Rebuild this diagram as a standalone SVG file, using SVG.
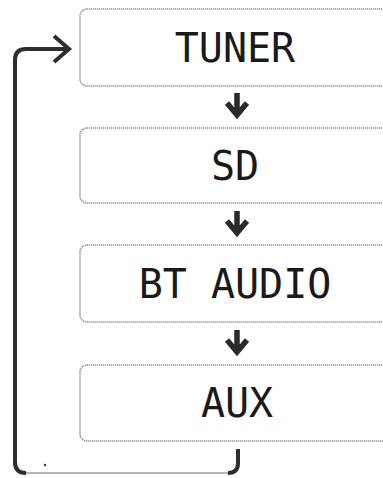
<svg xmlns="http://www.w3.org/2000/svg" width="383" height="478" viewBox="0 0 383 478">
<style>
.box{fill:#fff;stroke:#8a8a8a;stroke-width:1.6;stroke-dasharray:1.2 0.8}
.lbl{font-family:"DejaVu Sans Mono","Liberation Mono",monospace;font-size:40px;fill:#1a1a1a;text-anchor:middle;dominant-baseline:central}
.dn{fill:none;stroke:#2a2a2a;stroke-width:5.5}
.loop{fill:none;stroke:#2e2e2e;stroke-width:4}
</style>
<rect width="383" height="478" fill="#fff"/>
<g id="tuner"><rect class="box" x="80" y="9" width="330" height="77" rx="7"/><text class="lbl" x="235" y="48">TUNER</text></g>
<g id="sd"><rect class="box" x="80" y="128" width="330" height="75" rx="7"/><text class="lbl" x="235" y="166">SD</text></g>
<g id="bt-audio"><rect class="box" x="80" y="245" width="330" height="77" rx="7"/><text class="lbl" x="235" y="284">BT AUDIO</text></g>
<g id="aux"><rect class="box" x="80" y="365" width="330" height="76" rx="7"/><text class="lbl" x="237" y="403">AUX</text></g>
<g id="connectors">
<g class="dn">
<path d="M237 93V114M227 103L237 115L247 103"/>
<path d="M237 211V232M227 221L237 233L247 221"/>
<path d="M237 330V351M227 340L237 352L247 340"/>
</g>
<path class="loop" d="M238 449V463Q238 473 228 473"/>
<path d="M228 473H26" fill="none" stroke="#b5b5b5" stroke-width="2"/>
<path class="loop" d="M26 473Q15 473 15 462V60Q15 49 26 49H69"/>
<path class="loop" d="M54 36L69 49L54 62"/>
<circle cx="45" cy="465" r="1.2" fill="#333"/>
</g>
</svg>
